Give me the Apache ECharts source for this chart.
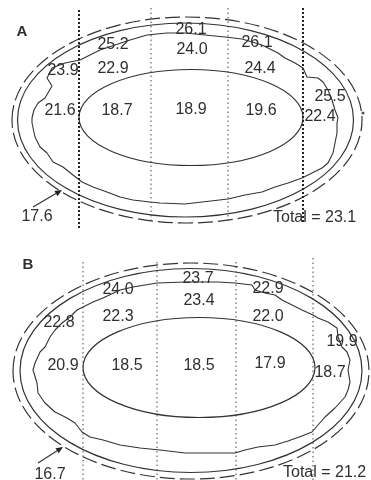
<!DOCTYPE html>
<html><head><meta charset="utf-8">
<script src="https://cdn.jsdelivr.net/npm/echarts@6/dist/echarts.min.js"></script>
<style>html,body{margin:0;padding:0;background:#fff}#c{width:371px;height:480px}</style>
</head><body><div id="c"></div>
<script>
// Panel titles and totals
const panelTitles = ['A', 'B'];
const totals = ['Total = 23.1', 'Total = 21.2'];
const minLabels = ['17.6', '16.7'];

// Region values, panel A
const valuesA = ['26.1','25.2','26.1','24.0','23.9','22.9','24.4','25.5','21.6','18.7','18.9','19.6','22.4'];
// Region values, panel B
const valuesB = ['23.7','24.0','22.9','23.4','22.3','22.0','22.8','19.9','20.9','18.5','18.5','17.9','18.7'];

// Label anchor points (diagram coordinates)
const posA = [[191,30],[113,45],[257,43],[192,50],[63,71],[113,69],[260,69],[330,97],[60,111],[117,111],[191,110],[261,111],[320,117]];
const posB = [[198,279],[118,290],[268,289],[199,301],[118,317],[268,317],[59,323],[342,342],[63,366],[127,366],[199,366],[270,364],[330,373]];

// Ellipses: cx, cy, rx, ry, dashed
const ellipsesA = [[187,120,175,103,1],[185.5,120,168,97,0],[191,117.5,112,48,0]];
const ellipsesB = [[191,371,178,108,1],[191,370.5,171,102,0],[199,367.5,116,50,0]];

// Irregular contour
const contourA = [[147,35],[130,40],[115,45],[100,50],[80,60],[65,63],[52,68],[47,78],[52,86],[45,98],[38,103],[34,110],[32,118],[32,123],[35,137],[40,147],[47,153],[53,162],[63,167],[73,175],[82,182],[93,187],[107,192],[120,197],[133,200],[150,202],[160,203],[185,204],[228,199],[245,195],[262,192],[275,187],[288,183],[302,178],[312,173],[322,168],[328,163],[333,153],[335,143],[337,133],[337,123],[338,118],[335,110],[332,100],[328,90],[323,82],[318,78],[307,77],[303,68],[295,63],[285,58],[278,53],[268,48],[262,45],[252,42],[242,39],[225,37],[205,35],[185,33],[167,33],[147,35]];
const contourB = [[185,282],[157,283],[133,287],[120,290],[103,298],[93,302],[83,307],[77,310],[70,317],[62,323],[55,330],[50,337],[45,347],[40,352],[35,363],[33,370],[37,383],[38,393],[45,403],[55,412],[67,418],[75,423],[82,432],[90,437],[103,440],[120,445],[140,448],[160,450],[185,453],[235,453],[245,450],[258,447],[275,445],[288,441],[302,436],[312,432],[318,425],[325,417],[335,408],[345,397],[348,390],[350,382],[348,370],[350,360],[347,352],[342,347],[338,337],[337,328],[328,322],[318,318],[313,315],[302,310],[292,305],[282,300],[275,295],[265,293],[255,290],[252,285],[235,283],[218,282],[205,282],[185,282]];

// Section dividers: x, yTop, yBottom, heavy
const dividers = [[79,10,230,1],[151,8,222,0],[228,8,223,0],[303,8,224,1],[83,262,480,0],[157,262,480,0],[236,262,480,0],[313,258,480,0]];

// Arrows pointing to the outer boundary: x1,y1,x2,y2
const arrows = [[33,207,62,190],[38,463,63,447]];

const INK = '#333';
const FONT = '16px "Liberation Sans", Arial, sans-serif';

const chart = echarts.init(document.getElementById('c'), null, {renderer:'canvas'});

function ellipseSeries(data){
  return {
    type:'custom', data:data, silent:true,
    renderItem:function(params, api){
      const c = api.coord([api.value(0), api.value(1)]);
      const s = api.size([api.value(2), api.value(3)]);
      const style = {fill:'none', stroke:INK, lineWidth:1.2};
      if (api.value(4) === 1) style.lineDash = [15,5];
      return {type:'ellipse', shape:{cx:c[0], cy:c[1], rx:s[0], ry:s[1]}, style:style};
    }
  };
}

function textSeries(values, pos, opts){
  return {
    type:'custom', data:pos, silent:true,
    renderItem:function(params, api){
      const p = api.coord([api.value(0), api.value(1)]);
      return {type:'text', x:p[0], y:p[1], style:{text:values[params.dataIndex], font:opts.font||FONT, fill:'#2f2f2f', align:opts.align||'center', verticalAlign:'middle'}};
    }
  };
}

const series = [];
series.push(ellipseSeries(ellipsesA));
series.push(ellipseSeries(ellipsesB));
[contourA, contourB].forEach(function(c){
  series.push({type:'line', data:c, showSymbol:false, silent:true, lineStyle:{color:INK, width:1.1}});
});
series.push({
  type:'custom', data:dividers, silent:true,
  renderItem:function(params, api){
    const a = api.coord([api.value(0), api.value(1)]);
    const b = api.coord([api.value(0), api.value(2)]);
    const heavy = api.value(3) === 1;
    return {type:'line', shape:{x1:a[0], y1:a[1], x2:b[0], y2:b[1]},
      style:{stroke: heavy ? '#222' : '#444', lineWidth: heavy ? 2 : 1, lineDash: heavy ? [2,2] : [1.5,3]}};
  }
});
series.push({
  type:'custom', data:arrows, silent:true,
  renderItem:function(params, api){
    const a = api.coord([api.value(0), api.value(1)]);
    const b = api.coord([api.value(2), api.value(3)]);
    const dx = b[0]-a[0], dy = b[1]-a[1], L = Math.sqrt(dx*dx+dy*dy);
    const ux = dx/L, uy = dy/L, hl = 7, hw = 3;
    const bx = b[0]-ux*hl, by = b[1]-uy*hl;
    return {type:'group', children:[
      {type:'line', shape:{x1:a[0], y1:a[1], x2:bx, y2:by}, style:{stroke:INK, lineWidth:1.2}},
      {type:'polygon', shape:{points:[[b[0],b[1]],[bx-uy*hw, by+ux*hw],[bx+uy*hw, by-ux*hw]]}, style:{fill:'#222'}}
    ]};
  }
});
series.push({type:'scatter', data:[[363,113]], symbolSize:3, silent:true, itemStyle:{color:'#222'}});
series.push(textSeries(valuesA, posA, {}));
series.push(textSeries(valuesB, posB, {}));
series.push(textSeries(minLabels, [[37,217],[50,475]], {}));
series.push(textSeries(totals, [[273,218],[283,473]], {align:'left'}));
series.push(textSeries(panelTitles, [[22,32],[28,265]], {font:'bold 15px "Liberation Sans", Arial, sans-serif'}));

chart.setOption({
  animation:false,
  grid:{left:0, right:0, top:0, bottom:0},
  xAxis:{type:'value', min:0, max:371, show:false},
  yAxis:{type:'value', min:0, max:480, inverse:true, show:false},
  series:series
});
</script></body></html>
